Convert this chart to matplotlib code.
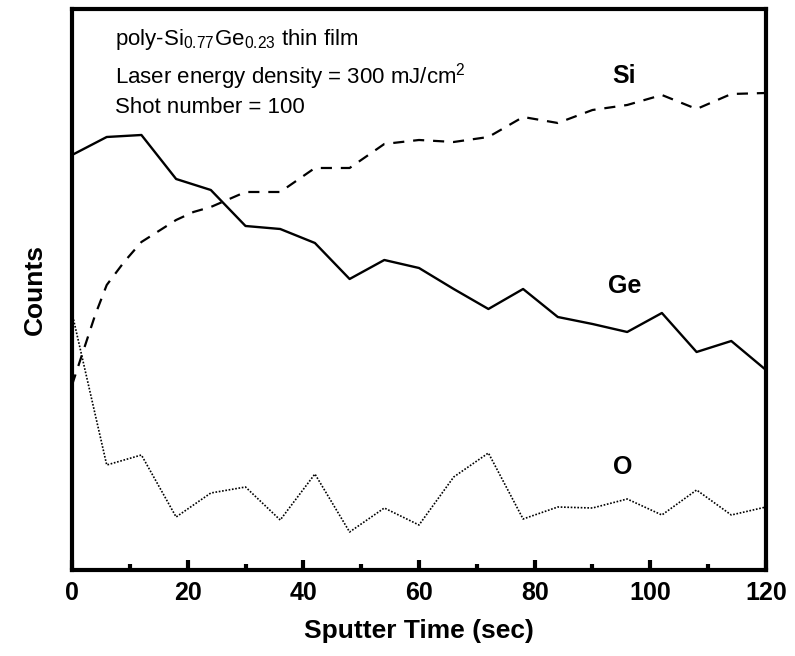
import numpy as np
import matplotlib
matplotlib.use('Agg')
import matplotlib.pyplot as plt
from matplotlib.ticker import MultipleLocator

plt.rcParams['font.family'] = ['Liberation Sans', 'DejaVu Sans']
plt.rcParams['mathtext.fontset'] = 'custom'
plt.rcParams['mathtext.rm'] = 'Liberation Sans'

# sputter time (sec)
t = np.arange(0, 121, 6)

# counts (arbitrary units)
ge = [415, 433, 435, 391, 380, 344, 341, 327, 291, 310, 302,
      281, 261, 281, 253, 246, 238, 257, 218, 229, 200]

t_si = [0, 2, 4, 6, 9, 12, 15, 18, 21, 24, 30, 36, 42, 48, 54, 60,
        66, 72, 78, 84, 90, 96, 102, 108, 114, 120]
si = [185, 220, 255, 285, 308, 328, 339, 350, 358, 363, 378, 378, 402,
      402, 426, 430, 428, 433, 453, 447, 460, 465, 475, 461, 476, 477]

o = [257, 105, 115, 53, 77, 83, 50, 96, 38, 62, 45,
     93, 117, 51, 63, 62, 71, 55, 80, 55, 63]

fig = plt.figure(figsize=(7.95, 6.56), dpi=100)
ax = fig.add_axes([0.0906, 0.1311, 0.8729, 0.8552])

ax.plot(t, ge, color='black', lw=1.7)
ax.plot(t_si, si, color='black', lw=1.6, ls=(0, (5, 4)))
ax.plot(t, o, color='black', lw=1.2, ls=(0, (1, 1)))

ax.set_xlim(0, 120)
ax.set_ylim(0, 561)
ax.xaxis.set_major_locator(MultipleLocator(20))
ax.xaxis.set_minor_locator(MultipleLocator(10))
ax.set_yticks([])
ax.tick_params(axis='x', which='major', direction='in', length=7, width=3,
               labelsize=18, pad=8)
ax.tick_params(axis='x', which='minor', direction='in', length=4, width=3)
for lab in ax.get_xticklabels():
    lab.set_fontweight('bold')
for s in ax.spines.values():
    s.set_linewidth(3)

ax.set_xlabel('Sputter Time (sec)', fontsize=19, fontweight='bold', labelpad=10)
ax.set_ylabel('Counts', fontsize=19, fontweight='bold', labelpad=18)

ax.text(0.062, 0.936, r'poly-Si$_{0.77}$Ge$_{0.23}$ thin film', transform=ax.transAxes,
        fontsize=16, va='baseline')
ax.text(0.062, 0.868, r'Laser energy density = 300 mJ/cm$^2$', transform=ax.transAxes,
        fontsize=16, va='baseline')
ax.text(0.062, 0.815, 'Shot number = 100', transform=ax.transAxes,
        fontsize=16, va='baseline')

ax.text(0.795, 0.880, 'Si', transform=ax.transAxes, fontsize=18, fontweight='bold',
        ha='center', va='center')
ax.text(0.797, 0.507, 'Ge', transform=ax.transAxes, fontsize=18, fontweight='bold',
        ha='center', va='center')
ax.text(0.793, 0.183, 'O', transform=ax.transAxes, fontsize=18, fontweight='bold',
        ha='center', va='center')

fig.savefig('out.png', dpi=100)
